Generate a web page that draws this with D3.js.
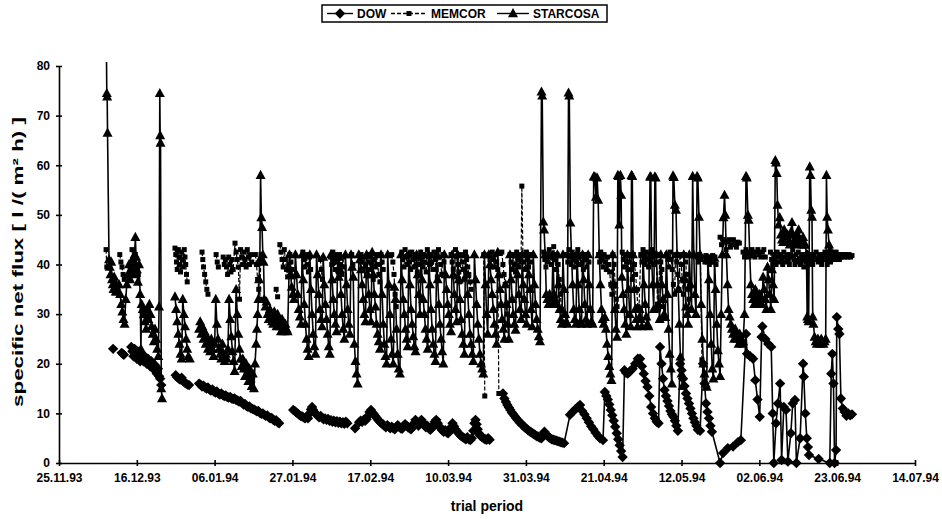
<!DOCTYPE html>
<html>
<head>
<meta charset="utf-8">
<script src="https://cdn.jsdelivr.net/npm/d3@7"></script>
<style>
  body { margin: 0; background: #fff; }
  svg { display: block; font-family: Arial, "Liberation Sans", sans-serif; }
  .axis path, .axis line { stroke: #000; stroke-width: 1.6; }
  .axis text { font-size: 12px; font-weight: bold; fill: #000; }
</style>
</head>
<body>
<svg id="chart"></svg>
<script>
// days are counted from 25.11.93, null = gap in the record
const startDay = Date.UTC(1993, 10, 25);
const dayTicks = [0, 21, 42, 63, 84, 105, 126, 147, 168, 189, 210, 231];
const yTicks = [0, 10, 20, 30, 40, 50, 60, 70, 80];
const seriesNames = ['DOW', 'MEMCOR', 'STARCOSA'];

const dowData = [
  [14.6,23],null,[16.9,22.2],[17.2,22],[17.5,21.8],null,
  [19.5,23.4],[19.8,22.5],[20.1,21.5],[20.4,23],[20.7,22],[21.0,21],[21.3,22.5],[21.6,21.5],[21.9,20.5],[22.2,22],[22.5,21],[22.8,20.5],[23.1,21.5],[23.4,20.5],[23.7,20],[24.0,21],[24.3,20],[24.6,19.5],[24.9,20.5],[25.2,19.5],[25.5,19],[25.8,19.8],[26.1,18.5],[26.4,18],[26.7,19],[27.0,17.5],[27.3,17],[27.6,15.7],null,
  [31.5,17.7],[31.9,17.3],[32.3,17],[32.7,16.8],[33.1,17.2],[33.5,16.5],[33.9,16.2],[34.3,16],[34.7,15.8],[35.1,15.7],null,
  [37.8,16],[38.2,15.8],[38.6,15.4],[39.0,15.6],[39.4,15.2],[39.8,15],[40.2,15.2],[40.6,14.8],[41.0,14.6],[41.4,14.8],[41.8,14.4],[42.2,14.2],[42.6,14.4],[43.0,14],[43.4,13.8],[43.8,14],[44.2,13.7],[44.6,13.5],[45.0,13.6],[45.4,13.3],[45.8,13.2],[46.2,13.3],[46.6,13],[47.0,12.9],[47.4,13],[47.8,12.7],[48.2,12.6],[48.6,12.4],[49.0,12.5],[49.4,12.1],[49.8,11.8],[50.2,11.9],[50.6,11.5],[51.0,11.3],[51.4,11.4],[51.8,11],[52.2,10.9],[52.6,10.8],[53.0,10.6],[53.4,10.4],[53.8,10.5],[54.2,10.1],[54.6,9.9],[55.0,10],[55.4,9.7],[55.8,9.5],[56.2,9.6],[56.6,9.2],[57.0,9],[57.4,9.1],[57.8,8.7],[58.2,8.5],[58.6,8.6],[59.0,8.2],[59.4,8],null,
  [63.2,10.7],[63.6,10.5],[64.0,10.2],[64.4,10],[64.8,9.7],[65.2,9.5],[65.6,9.4],[66.0,9.2],[66.4,9],[66.8,9.3],[67.2,9],[67.6,10],[68.0,10.8],[68.3,11.3],[68.6,10.7],[69.0,10.2],[69.4,9.8],[69.8,9.5],[70.2,9.2],[70.6,9.5],[71.0,9.1],[71.4,8.8],[71.8,9],[72.2,8.7],[72.6,8.9],[73.0,8.5],[73.4,8.6],[73.8,8.3],[74.2,8.5],[74.6,8.2],[75.0,8.4],[75.4,8.1],[75.8,8.3],[76.2,8],[76.6,8.2],[77.0,7.9],[77.4,8.3],[77.8,8],null,
  [79.9,7],null,
  [81.0,8.2],[81.4,8.5],[81.8,8.3],[82.2,8.7],[82.6,8.5],[83.0,8.8],[83.4,9.5],[83.8,10.3],[84.2,10.7],[84.6,10.2],[85.0,9.8],[85.4,9.4],[85.8,9],[86.2,8.6],[86.6,8.3],[87.0,8],[87.4,7.8],[87.8,7.5],[88.2,7.2],[88.6,7.6],[89.0,7.3],[89.4,7],[89.8,7.3],[90.2,7],[90.6,6.8],[91.0,7.2],[91.4,7.6],[91.8,7.3],[92.2,7],[92.6,6.9],[93.0,7.5],[93.4,7.8],[93.8,7.5],[94.2,7.2],[94.6,7],[95.0,6.8],[95.4,7.3],[95.8,8],[96.2,8.7],[96.6,8.2],[97.0,7.5],[97.4,8],[97.8,8.7],[98.2,8.2],[98.6,7.6],[99.0,7.2],[99.4,7.5],[99.8,7],[100.2,6.7],[100.6,7],[101.0,7.6],[101.4,8.3],[101.8,8.7],[102.2,8],[102.6,7.4],[103.0,7],[103.4,6.6],[103.8,6.3],[104.2,6.6],[104.6,6.2],[105.0,6],[105.4,6.4],[105.8,7.2],[106.2,8],[106.6,7.4],[107.0,6.8],[107.4,6.4],[107.8,6],[108.2,5.7],[108.6,5.4],[109.0,5.2],[109.4,5],[109.8,4.8],[110.2,5.2],[110.6,4.8],[111.0,4.6],[111.4,5],[111.8,6.5],[112.1,8],[112.4,8.7],[112.7,7.8],[113.0,6.8],[113.3,6],[113.6,5.6],[113.9,5.4],[114.2,5.2],[114.6,5],[115.0,4.8],[115.4,4.7],[115.8,5],[116.2,4.7],null,
  [119.8,14],[120.2,13],[120.6,12.3],[121.0,11.7],[121.4,11.2],[121.8,10.7],[122.2,10.2],[122.6,9.8],[123.0,9.4],[123.4,9],[123.8,8.6],[124.2,8.3],[124.6,8],[125.0,7.7],[125.4,7.4],[125.8,7.1],[126.2,6.9],[126.6,6.6],[127.0,6.4],[127.4,6.2],[127.8,6],[128.2,5.8],[128.6,5.6],[129.0,5.4],[129.4,5.3],[129.8,5.1],[130.2,5],[130.6,5.8],[131.0,6.3],[131.4,5.8],[131.8,5.5],[132.2,5.2],[132.6,5],[133.0,4.8],[133.4,4.7],[133.8,4.6],[134.2,4.5],[134.6,4.4],[135.0,4.3],[135.4,4.2],[135.8,4.1],[136.3,4],
  [137.9,9.7],[138.6,10.3],[139.3,10.8],[140.0,11.3],[140.6,11.7],[141.2,10.5],[141.8,9.8],[142.4,9],[143.0,8.2],[143.6,7.4],[144.2,6.8],[144.8,6.1],[145.4,5.5],[146.0,5],[146.8,4.6],
  [147.3,14.3],[147.7,13.5],[148.1,12.8],[148.5,11.8],[148.9,10.7],[149.3,9.6],[149.7,8.5],[150.1,7.3],[150.5,6],[150.9,4.8],[151.3,3.6],[151.7,2.4],[152.1,1.2],
  [152.6,18.7],[153.0,18.2],[153.5,18],[154.1,18.5],[154.8,19],[155.5,20],[156.2,21],[156.8,21],[157.3,19.5],[157.8,18],[158.3,16.5],[158.8,15.3],[159.3,13.5],[159.8,11.3],[160.3,10],[160.8,9],[161.3,8.3],[161.8,8],
  [162.2,23.4],[162.6,20],[163.0,17],[163.4,14.7],[163.8,13.5],[164.2,12.5],[164.6,11.5],[165.0,10.5],[165.4,9.8],[165.8,9.3],[166.2,8.5],[166.6,7.5],[167.0,6.5],
  [167.6,20],[168.0,18.7],[168.4,17],[168.8,15.5],[169.2,14],[169.6,13],[170.0,12],[170.4,11],[170.8,10],[171.2,9],[171.6,8.2],[172.0,7.5],[172.4,6.7],[173.0,6.5],
  [173.8,20],[174.2,16],[174.6,12],[175.0,10.3],[175.4,9],[175.8,7.5],[176.2,6.3],[178.4,0],[179.2,2],[180.5,3],[181.9,3.3],[183.2,4.2],[184.0,4.6],
  [185.4,26],[185.7,22],[186.5,21.5],[187.3,21],[187.9,16.7],[188.5,12.8],[189.1,9.3],[189.6,25.4],[189.8,27.5],[190.6,25],[191.4,24],[192.2,23.4],[192.6,10],[192.9,0],[193.5,8],[194.0,12],[194.6,16],[195.0,0.6],[195.6,11.3],[196.2,10.7],[196.7,0.3],[197.5,6],[198.0,12],[198.6,12.7],[199.0,0],[200.0,5],[200.8,20],[201.0,17.4],[201.4,10],[201.8,5],[202.1,3.2],[202.4,1.6],[205.0,0.8],[208.0,0],
  [208.4,18],[208.7,22],[209.0,16],[209.3,0],[209.7,2.6],[209.9,29.4],[210.3,27],[210.6,26],[211.0,13],[211.5,11],[212.0,10.3],[212.5,9.5],[213.0,10],[213.5,9.6],[214.0,9.8]
];

const memcorData = [
  [12.7,43],[12.9,39.5],null,[16.4,42],[16.7,40.5],[17.0,39.5],[17.3,38],[17.6,37],null,
  [19.7,43],[20.0,41],[20.3,40],[20.6,42],[21.0,39.5],[21.4,38],null,
  [31.3,43.3],[31.5,42],[31.7,40.5],[31.9,39],[32.2,43],[32.4,41.5],[32.6,40],[32.8,38.5],[33.1,42.5],[33.3,41],[33.5,39.5],[33.8,43],[34.0,41.5],[34.2,40],[34.4,38],[34.6,36.5],null,
  [38.6,42.5],[38.8,41],[39.0,39.5],[39.3,38],[39.6,36.5],[39.9,35],[40.2,34],null,[42.4,42],[42.7,40.5],[43.0,39.5],null,
  [44.3,41.5],[44.6,40],[44.9,41],[45.2,39.5],[45.5,38],[45.8,41.5],[46.1,40],[46.4,38.5],[46.7,41],[47.0,39],
  [47.5,44.3],[47.8,42.5],[48.1,41],[48.4,39.5],[48.7,33],[49.0,43],[49.3,41.5],[49.6,40],[49.9,42.5],[50.2,41],[50.5,39.5],[50.8,43],[51.1,41.5],[51.4,40],[51.7,42],[52.0,40.5],null,
  [53.0,42],[53.3,40],[53.6,37],[53.9,35],[54.2,33],[54.5,42],[54.8,41],null,[58.6,35],[59.0,33.5],null,
  [59.6,44],[59.9,42.5],[60.2,41],[60.5,39.5],[60.8,43],[61.1,41],[61.4,39],[61.7,37.5],[62.0,40],[62.3,42],[62.6,40.5],[62.9,39],[63.2,37.5],null,
  [65.8,42.5],[66.1,41],[66.4,39.5],[66.7,42],[67.0,40],[67.3,38.5],[67.6,41.5],[67.9,39],null,[70.5,41],[70.8,39],[71.1,37],null,
  [73.3,41.5],[73.6,40],[73.9,42.5],[74.2,41],[74.5,39],[74.8,42],[75.1,40.5],[75.4,38.5],[75.7,42],[76.0,40],[76.3,38],[76.6,41.5],[76.9,39.5],null,[79.0,42],[79.3,40],null,
  [81.5,42],[81.8,40.5],[82.1,39],[82.4,41.5],[82.7,40],[83.0,38],[83.3,42],[83.6,40.5],[83.9,39],[84.2,41.5],[84.5,40],[84.8,37],[85.1,41],[85.4,39.5],[85.7,42],[86.0,40],[86.3,38],[86.6,36.5],[86.9,42],[87.2,40.5],[87.5,39],null,
  [89.8,42],[90.1,40.5],[90.4,38],[90.7,34],[91.0,31.5],null,
  [92.5,42.5],[92.8,41],[93.1,39.5],[93.4,43],[93.7,41.5],[94.0,40],[94.3,42],[94.6,40.5],[94.9,39],[95.2,42.5],[95.5,41],[95.8,39.5],[96.1,42],[96.4,40],[96.7,38.5],[97.0,41.5],[97.3,40],[97.6,42.5],[97.9,41],[98.2,39.5],[98.5,42],[98.8,40.5],[99.1,38.5],[99.4,43],[99.7,41.5],[100.0,40],[100.3,42],[100.6,40.5],[100.9,39],[101.2,42.5],[101.5,41],[101.8,39],[102.1,37.5],[102.4,43],[102.7,41.5],[103.0,40],[103.3,38],[103.6,42],[103.9,40.5],null,
  [105.8,42],[106.1,40.5],[106.4,39],[106.7,37.5],[107.0,43],[107.3,41.5],[107.6,40],[107.9,38.5],[108.2,36.5],[108.5,42],[108.8,40.5],[109.1,39],[109.4,37],[109.7,42.5],[110.0,41],[110.3,39.5],[110.6,38],[110.9,36.5],[111.2,35],null,
  [114.6,42],[114.9,13.5],null,[116.0,42],[116.3,41],[116.6,39.5],[116.9,42.5],[117.2,41],[117.5,39.5],[117.8,42],[118.1,40.5],[118.4,39],[118.7,14],null,
  [119.5,42.5],[119.8,40],[120.1,38],[120.4,36],[120.7,32],[121.0,30],null,
  [121.7,42],[122.0,40.5],[122.3,39],[122.6,42],[122.9,40],[123.2,38.5],[123.5,42.5],[123.8,41],[124.1,39.5],[124.4,42],[124.7,40.5],[124.9,55.8],[125.2,42],[125.5,40.5],[125.8,39],[126.1,42.5],[126.4,41],[126.7,39.5],[127.0,42],[127.3,40.5],null,
  [130.8,42.5],[131.1,41],[131.4,39.5],[131.7,42],[132.0,40.5],[132.3,43],[132.6,41.5],[132.9,40],[133.2,42],[133.5,43.6],[133.8,41],[134.1,39],[134.4,42],[134.7,40],[135.0,37],[135.3,34],[135.6,31],null,
  [137.0,42],[137.3,40.5],[137.6,43],[137.9,41.5],[138.2,40],[138.5,42.5],[138.8,41],[139.1,39.5],[139.4,42],[139.7,40.5],[140.0,43],[140.3,41.5],[140.6,40],[140.9,42],[141.2,40.5],[141.5,39],[141.8,42],[142.1,41],[142.4,39.5],[142.7,42],[143.0,40.5],null,
  [145.6,42],[145.9,40.5],[146.2,42.5],[146.5,41],[146.8,39.5],[147.1,42],[147.4,40.5],[147.7,39],[148.0,41.5],[148.3,40],[148.6,38.5],[148.9,36],[149.2,34],[149.5,42],[149.8,40],[150.1,36],[150.4,33],[150.6,31.5],null,
  [152.0,42.5],[152.3,41],[152.6,39.5],[152.9,42],[153.2,40.5],[153.5,39],[153.8,42],[154.1,40.5],[154.4,39],[154.7,37],[155.0,42],[155.3,40],[155.6,38],[155.9,35],[156.2,31.5],[156.5,31],
  [157.0,42],[157.3,40.5],[157.6,43],[157.9,41.5],[158.2,40],[158.5,42.5],[158.8,41],[159.1,39.5],[159.4,42],[159.7,40.5],[160.0,43],[160.3,41.5],[160.6,40],[160.9,42],[161.2,40.5],[161.5,32],[161.8,31],[162.1,42],[162.4,40.5],[162.7,39],[163.0,31.5],null,
  [164.0,42],[164.3,41],[164.6,39.5],[164.9,42.5],[165.2,41],[165.5,39],[165.8,36],[166.1,34],[166.4,42],[166.7,40.5],[167.0,38],[167.3,35],[167.6,42],[167.9,40],[168.2,37],[168.5,34],[168.8,42],[169.1,40.5],[169.4,38],[169.7,35],[170.0,33],[170.3,31],null,
  [172.2,41.5],[172.5,40.5],[172.8,42],[173.1,41],[173.5,20.8],null,
  [174.0,41.5],[174.3,40.5],[174.6,41.8],[174.9,40.5],[175.2,41.5],[175.5,40],[175.8,41.5],[176.1,40.5],[176.4,41.8],[176.7,40.5],[177.0,41.5],[177.3,40],null,
  [178.4,45.5],[178.8,44],[179.2,45],[179.6,44.5],[180.0,43],[180.4,44.5],[180.8,45],[181.2,43.5],[181.6,44],[182.0,45],[182.4,44],[182.8,43.5],[183.2,44.5],[183.6,44.3],null,
  [184.6,42.5],[185.0,41.5],[185.4,43],[185.8,42],[186.2,41.5],[186.6,42.5],[187.0,43],[187.4,42],[187.8,41.5],[188.2,42.5],[188.6,43],[189.0,42],[189.4,41.5],[189.8,42.5],[190.2,43],[190.6,41.5],null,
  [192.0,42.5],[192.3,41],[192.6,40],[192.9,42],[193.2,41],[193.5,40],[193.8,42.5],[194.1,41.5],[194.4,40.5],[194.7,42],[195.0,41],[195.3,40],[195.6,42.5],[195.9,41.5],[196.2,40.5],[196.5,42],[196.8,41],[197.1,40],[197.4,42],[197.7,41.5],[198.0,43],[198.3,41],[198.6,40],[198.9,42],[199.2,40.5],[199.5,42.5],[199.8,41],[200.1,40],[200.4,42],[200.7,41],[201.0,39.5],[201.3,42],[201.6,40.5],[201.9,41.5],[202.2,40],[202.5,42],[202.8,40.5],[203.1,41.5],[203.4,40],[203.7,42],[204.0,41],[204.3,42.5],[204.6,41],[204.9,40.5],[205.2,42],[205.5,41],[205.8,40],[206.1,42],[206.4,41],[206.7,42.5],[207.0,41],[207.3,40],[207.6,42],[207.9,41],[208.2,40.5],[208.5,42],[208.8,41.5],[209.1,42],[209.4,41],[209.7,42.5],[210.0,41.5],[210.3,42],[210.6,41],[210.9,42],[211.2,41.5],[211.6,42],[212.0,41.5],[212.4,42],[212.8,41.5],[213.2,42],[213.6,41.5],[214.0,41.8]
];

const starcosaData = [
  [12.8,83],[12.9,74.5],[13.0,73.8],[13.1,66.5],[13.5,41],[13.7,39.5],[13.9,38],[14.1,40.5],[14.3,37],[14.5,36],[14.7,35],[14.9,37.5],[15.1,35.5],[15.3,34.5],[15.5,36],[15.7,34.5],
  [16.2,36],[16.5,34],[16.8,32],[17.1,30.5],[17.4,29],[17.7,28],[18.0,33],[18.3,36],[18.6,38],[18.9,40],[19.2,37],[19.5,39],[19.8,41],[20.1,38],[20.4,42],[20.6,45.5],[20.8,41.5],[21.0,39],[21.3,36.5],[21.6,40],[21.9,34],[22.1,23],[22.3,32],[22.6,31],[22.9,30],[23.2,28.5],[23.5,27],[23.8,31],[24.1,29],[24.4,32],[24.7,30],[25.0,27.5],[25.3,26],[25.6,24.5],[25.9,27],[26.2,25],[26.5,23],[26.8,21.5],[27.0,31.5],[27.2,74.5],[27.3,66],[27.4,64.5],[27.6,15],[27.8,13],null,
  [31.3,33.5],[31.6,31],[31.9,28.5],[32.2,26],[32.5,24],[32.8,22],[33.1,21],[33.4,33],[33.7,30],[34.0,27.5],[34.3,25],[34.6,23],[34.9,21.5],[35.3,21],null,
  [37.8,27],[38.1,28.5],[38.4,26],[38.7,27.5],[39.0,25],[39.3,26.5],[39.6,24],[39.9,25.5],[40.2,23],[40.5,24.5],[40.8,22.5],[41.1,25],[41.4,23],[41.7,21.5],[42.0,24],[42.3,33],[42.6,28],[42.9,25],[43.2,23],[43.5,22],[43.8,21],[44.1,24],[44.4,22],[44.7,20.5],[45.0,22],[45.3,21],[45.6,23],[45.9,33],[46.2,29],[46.5,25.5],[46.8,22.5],[47.1,20.5],[47.4,18.5],[47.8,35],[48.1,30],[48.4,26],[48.7,23],[49.0,21],[49.3,19.5],[49.6,21],[49.9,19],[50.2,17.5],[50.5,20],[50.8,18],[51.1,16.5],[51.4,19],[51.7,17],[52.0,15.5],[52.3,18],[52.6,15],[52.9,20],[53.2,24],[53.4,27],[53.6,30],[53.8,33],[54.0,37],[54.2,41],[54.4,58],[54.6,49.5],[54.8,47.5],[55.0,42],[55.2,40.5],
  [55.4,33],[55.7,31.5],[56.0,32.5],[56.3,30],[56.6,29],[56.9,31],[57.2,30],[57.5,28.5],[57.8,28],[58.1,30.5],[58.4,29],[58.7,27.5],[59.0,30],[59.3,28.5],[59.6,27.5],[59.9,26.5],[60.2,29],[60.5,28],[60.8,26.5],[61.1,28],[61.4,27],[61.7,26.5],
  [62.2,42],[62.5,38],[62.8,35.5],[63.1,34],[63.4,33],[63.8,42],[64.1,38],[64.4,34],[64.7,31],[65.0,29.5],[65.3,28],[65.6,42],[65.9,37],[66.2,32],[66.5,28],[66.8,25],[67.1,23],[67.4,21.5],[67.7,42],[68.0,35],[68.3,30],[68.6,26],[68.9,23.5],[69.2,22],[69.5,42],[69.8,38],[70.1,34],[70.4,31],[70.7,29],[71.0,27.5],[71.3,41.5],[71.6,36],[71.9,32],[72.2,29],[72.5,26],[72.8,23.5],[73.1,22],[73.4,42],[73.7,37],[74.0,33],[74.3,30],[74.6,28],[74.9,26.5],[75.2,41.5],[75.5,37.5],[75.8,39],[76.1,34],[76.4,30],[76.7,27],[77.0,25],[77.3,42],[77.6,36],[77.9,31],[78.2,28],[78.5,26],[78.8,42],[79.1,39.5],[79.4,37.5],[79.7,24],[80.0,20.5],[80.3,18],[80.6,16],[80.9,42],[81.2,41],[81.5,39],[81.8,36],[82.1,33],[82.4,30],[82.7,28.5],[83.0,42],[83.3,38],[83.6,34],[83.9,31],[84.2,28.5],[84.5,42.5],[84.8,38],[85.1,34],[85.4,31.5],[85.7,28],
  [86.0,26],[86.3,24.5],[86.6,23],[86.9,42],[87.2,34],[87.5,28],[87.8,24],[88.1,21.5],[88.4,20],[88.7,42],[89.0,36],[89.3,30],[89.6,25],[89.9,22],[90.2,20],[90.5,35.5],[90.8,33],[91.1,27],[91.4,22],[91.7,19],[92.0,18],[92.3,42],[92.6,37],[92.9,33],[93.2,30],[93.5,27],[93.8,25],[94.1,23.5],[94.4,42],[94.7,36],[95.0,31],[95.3,28],[95.6,25.5],[95.9,23.5],[96.2,22.5],[96.5,42],[96.8,38],[97.1,34],[97.4,30],[97.7,42],[98.0,37],[98.3,33],[98.6,30],[98.9,27],[99.2,25],[99.5,23],[99.8,42],[100.1,36],[100.4,31],[100.7,27],[101.0,24],[101.3,22],[101.6,20.5],[101.9,42],[102.2,37],[102.5,32],[102.8,28],[103.1,25],[103.4,22.5],[103.7,20],[104.0,42],[104.3,38],[104.6,35],[104.9,32],[105.2,30],[105.5,28],[105.8,26.5],[106.1,42],[106.4,38],[106.7,34],[107.0,31],[107.3,28.5],[107.6,42],[107.9,37],[108.2,33],[108.5,29],[108.8,26],[109.1,24],[109.4,22],[109.7,42],[110.0,38],[110.3,34],[110.6,30],[110.9,26],[111.2,24],[111.5,22],[111.8,20.5],[112.1,42],[112.4,37],[112.7,32],[113.0,28],[113.3,25],[113.6,22],[113.9,20],[114.2,19],[114.5,18],[114.8,42],[115.1,36],[115.4,30],[115.7,26],[116.0,42],[116.3,40],[116.6,37],[116.9,34],[117.2,31],[117.5,28],[117.8,26],[118.1,24],[118.4,42.5],[118.7,38],[119.0,35],[119.3,32],[119.6,29],[119.9,27],[120.2,25],
  [120.5,36],[120.8,32],[121.1,28],[121.4,25],[121.7,42],[122.0,37],[122.3,33],[122.6,30],[122.9,28],[123.2,26.8],[123.5,42],[123.8,38],[124.1,34],[124.4,31],[124.7,29],[125.0,42],[125.3,36],[125.6,33],[125.9,30],[126.2,28],[126.5,42],[126.8,38],[127.1,35],[127.4,31],[127.7,27.5],[128.0,42],[128.3,36],[128.6,32],[128.9,29],[129.2,27],[129.5,25.5],[129.8,24.5],[130.2,74.8],[130.4,74],[130.7,48.6],[130.9,47],[131.2,42],[131.5,34],[131.8,33],[132.1,32],[132.4,34],[132.7,33],[133.0,32],[133.3,42],[133.6,34],[133.9,33],[134.2,32],[134.5,42],[134.8,36],[135.1,31],[135.4,29],[135.7,28],[136.0,42],[136.3,35],[136.6,30],[136.9,28.5],[137.2,28],[137.5,74.6],[137.7,74],[138.0,48.4],[138.3,42],[138.6,36],[138.9,31],[139.2,29],[139.5,28],[139.8,42],[140.1,36],[140.4,31],[140.7,28.5],[141.0,28],[141.3,42],[141.6,37],[141.9,32],[142.2,29],[142.5,28],[142.8,42],[143.1,36],[143.4,31],[143.7,28.5],[144.0,28],[144.3,57.7],[144.6,57.7],[144.9,53.6],[145.2,57.5],[145.5,53],[145.8,42],[146.1,36],[146.4,31],[146.7,29],[147.0,28],[147.3,29.4],[147.6,27],[147.9,24],[148.2,21.5],[148.5,19.5],[148.8,18],[149.1,16.7],[149.4,42],[149.7,36],[150.0,31],[150.3,27],[150.6,25.4],[150.8,58],[151.0,57.8],[151.2,48],[151.5,58],[151.7,54],[151.9,37.5],[152.2,34],[152.5,31],[152.8,28],[153.1,26],[153.4,42],[153.7,35],[154.0,30],[154.3,27.5],[154.5,58],[154.7,57.8],[154.9,42],[155.2,35],[155.5,31],[155.8,29],[156.1,27.5],[156.4,29],[156.7,31],[157.0,29],[157.3,27.5],
  [157.6,42],[157.9,36],[158.2,32],[158.5,29.5],[158.8,28],[159.1,27.5],[159.5,57.7],[159.7,57.7],[159.9,42],[160.2,36],[160.5,31],[160.8,57.7],[161.0,57.5],[161.2,42],[161.5,36],[161.8,32],[162.1,29],[162.4,42],[162.7,36],[163.0,33],[163.3,30],[163.6,29.4],[163.9,42],[164.2,34],[164.5,27],[164.8,22],[165.1,19],[165.4,16],[165.7,57.9],[165.9,57.6],[166.2,52],[166.5,51],[166.8,42],[167.1,35],[167.4,28],[167.7,21.4],[168.0,18],[168.3,15.5],[168.6,42],[168.9,37],[169.2,31.5],[169.5,30],[169.8,28],[170.1,42],[170.4,36],[170.7,31],[171.0,57.8],[171.3,42],[171.6,34],[171.9,30],[172.2,57.8],[172.4,57.5],[172.7,49.6],[173.0,42],[173.3,32],[173.6,25],[173.9,20],[174.2,18],[174.5,16],[174.8,15.3],[175.1,41],[175.4,37],[175.7,30],[176.0,24],[176.3,19],[176.6,17],[176.9,41.3],[177.2,35],[177.5,28],[177.8,22.7],[178.1,20],[178.4,17.5],[178.7,30],[179.0,42],[179.3,49.5],[179.6,54],[179.8,50],[180.1,42],[180.4,36],[180.7,31],[181.0,29.5],[181.3,28],[181.6,27],[181.9,26],[182.2,25],[182.5,27],[182.8,26],[183.1,25],[183.4,24],[183.7,26],[184.0,25],[184.3,24],[184.6,24.5],[185.0,30],[185.4,57.8],[185.6,57.5],[185.9,50],[186.1,49],[186.4,42],[186.7,36],[187.0,34],[187.3,33],[187.6,32],[187.9,35],[188.2,34],[188.5,33],[188.8,32],[189.1,34],[189.4,33],[189.7,32],[190.0,37.5],[190.3,35],[190.6,33],[190.9,31],[191.2,39.5],[191.5,37],[191.8,34],[192.1,31],[192.4,39],[192.7,36],[193.0,33],
  [193.3,61],[193.5,60.5],[193.7,58.4],[193.9,52],[194.2,48],[194.5,49.5],[194.8,46],[195.1,45],[195.4,44.5],[195.7,47],[196.0,45],[196.3,44.5],[196.6,46],[196.9,44.5],[197.2,44],[197.5,46.5],[197.8,48.5],[198.1,46],[198.4,45],[198.7,44.5],[199.0,44],[199.3,46],[199.6,47],[199.9,45],[200.2,44.5],[200.5,44],[200.8,45.5],[201.1,44],[201.4,44],[201.7,42],[201.9,29.5],[202.0,42],[202.1,29],[202.2,41],[202.3,28.5],[202.6,59.7],[202.8,58],[203.0,51],[203.2,49.6],[203.4,29.5],[203.6,28],[203.9,25.4],[204.2,24.5],[204.5,24],[204.8,25],[205.1,24.5],[205.4,24],[205.7,25],[206.0,24.5],[206.3,24],[206.6,24.5],[206.9,25],[207.1,58],[207.3,49.6],[207.5,47],[207.8,44],[208.1,43],[208.4,42],[208.7,41.5],[209.0,42]
];

class FluxChart {
    constructor(_config, _series) {
        this.config = {
            parentElement: _config.parentElement,
            containerWidth: _config.containerWidth || 942,
            containerHeight: _config.containerHeight || 519,
            margin: {top: 66, right: 27, bottom: 56, left: 59}
        }
        this.series = _series;
        this.initVis();
    }

    initVis() {
        let vis = this;

        vis.width = vis.config.containerWidth - vis.config.margin.left - vis.config.margin.right;
        vis.height = vis.config.containerHeight - vis.config.margin.top - vis.config.margin.bottom;

        vis.svg = d3.select(vis.config.parentElement)
            .attr('width', vis.config.containerWidth)
            .attr('height', vis.config.containerHeight);

        vis.chart = vis.svg.append('g')
            .attr('transform', `translate(${vis.config.margin.left}, ${vis.config.margin.top})`);

        // plot area clip, a little above the 80 tick like the original
        vis.svg.append('defs').append('clipPath')
            .attr('id', 'plot-clip')
          .append('rect')
            .attr('x', -6).attr('y', -4)
            .attr('width', vis.width + 12).attr('height', vis.height + 10);

        vis.toDate = d => new Date(startDay + d * 864e5);

        vis.xScale = d3.scaleUtc()
            .domain([vis.toDate(0), vis.toDate(231)])
            .range([0, vis.width]);

        vis.yScale = d3.scaleLinear()
            .domain([0, 80])
            .range([vis.height, 0]);

        this.renderVis();
    }

    renderVis() {
        let vis = this;
        const fmt = d3.utcFormat('%d.%m.%y');

        // axes, ticks cross the axis line like the original
        let xAxis = d3.axisBottom(vis.xScale)
            .tickValues(dayTicks.map(vis.toDate))
            .tickFormat(fmt)
            .tickSize(3).tickSizeOuter(0).tickPadding(7);
        let xg = vis.chart.append('g')
            .attr('class', 'axis x-axis')
            .attr('transform', `translate(0, ${vis.height})`)
            .call(xAxis);
        xg.selectAll('.tick line').attr('y1', -3).attr('y2', 3);

        let yAxis = d3.axisLeft(vis.yScale)
            .tickValues(yTicks)
            .tickSize(3).tickSizeOuter(0).tickPadding(6);
        let yg = vis.chart.append('g')
            .attr('class', 'axis y-axis')
            .call(yAxis);
        yg.selectAll('.tick line').attr('x1', -3).attr('x2', 3);

        const shapes = {
            DOW: 'M0,-5.2L5.2,0L0,5.2L-5.2,0Z',
            MEMCOR: 'M-2.5,-2.5H2.5V2.5H-2.5Z',
            STARCOSA: 'M0,-5.4L5,3.8H-5Z'
        };

        let line = d3.line()
            .defined(d => d != null)
            .x(d => vis.xScale(vis.toDate(d[0])))
            .y(d => vis.yScale(d[1]));

        let plot = vis.chart.append('g').attr('clip-path', 'url(#plot-clip)');

        vis.series.forEach(s => {
            let g = plot.append('g').attr('class', 'series');
            g.append('path')
                .datum(s.data)
                .attr('d', line)
                .attr('fill', 'none')
                .attr('stroke', '#000')
                .attr('stroke-width', s.name === 'MEMCOR' ? 1.2 : 1.6)
                .attr('stroke-dasharray', s.name === 'MEMCOR' ? '4,2' : null);
            g.selectAll('path.mark')
                .data(s.data.filter(d => d != null))
                .enter()
                .append('path')
                    .attr('class', 'mark')
                    .attr('d', shapes[s.name])
                    .attr('transform', d => `translate(${vis.xScale(vis.toDate(d[0]))},${vis.yScale(d[1])})`)
                    .attr('fill', '#000');
        });

        // axis titles
        vis.svg.append('text')
            .attr('x', 487).attr('y', 511)
            .attr('text-anchor', 'middle')
            .style('font-size', '14px').style('font-weight', 'bold')
            .text('trial period');

        vis.svg.append('text')
            .attr('transform', 'translate(23, 262) rotate(-90)')
            .attr('text-anchor', 'middle')
            .style('font-size', '14px').style('font-weight', 'bold')
            .attr('textLength', 290).attr('lengthAdjust', 'spacingAndGlyphs')
            .text('specific net flux  [ l /( m² h) ]');

        // legend
        let legend = vis.svg.append('g').attr('class', 'legend');
        legend.append('rect')
            .attr('x', 322).attr('y', 5).attr('width', 285).attr('height', 17)
            .attr('fill', 'none').attr('stroke', '#000').attr('stroke-width', 1.5);
        const legendPos = [{lx: 327, tx: 357}, {lx: 391, tx: 431}, {lx: 497, tx: 533}];
        const legendLen = [26, 36, 32];
        vis.series.forEach((s, i) => {
            let p = legendPos[i];
            legend.append('line')
                .attr('x1', p.lx).attr('x2', p.lx + legendLen[i])
                .attr('y1', 13.5).attr('y2', 13.5)
                .attr('stroke', '#000').attr('stroke-width', 1.4)
                .attr('stroke-dasharray', s.name === 'MEMCOR' ? '4,2' : null);
            legend.append('path')
                .attr('d', shapes[s.name])
                .attr('transform', `translate(${p.lx + legendLen[i] / 2},13.5)`)
                .attr('fill', '#000');
            legend.append('text')
                .attr('x', p.tx).attr('y', 18)
                .style('font-size', '12px').style('font-weight', 'bold')
                .text(s.name);
        });
    }
}

const series = [
    {name: seriesNames[0], data: dowData},
    {name: seriesNames[1], data: memcorData},
    {name: seriesNames[2], data: starcosaData}
];

new FluxChart({parentElement: '#chart'}, series);
</script>
</body>
</html>
